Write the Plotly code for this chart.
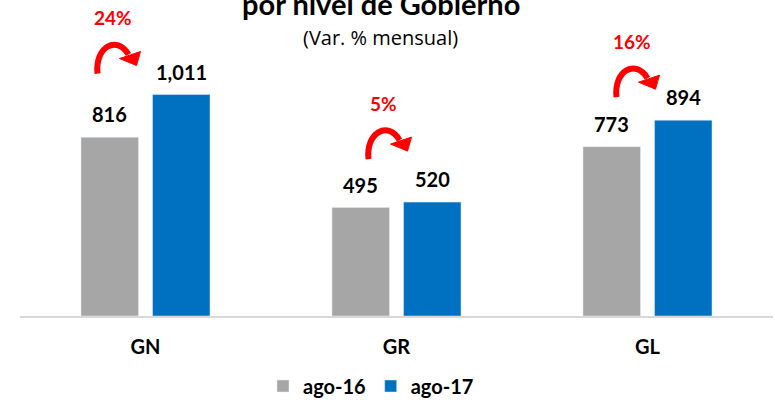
import plotly.graph_objects as go

# ---- data ----
categories = ["GN", "GR", "GL"]
ago16 = [816, 495, 773]
ago17 = [1011, 520, 894]
pct_change = ["24%", "5%", "16%"]
series_names = ["ago-16", "ago-17"]

# ---- style ----
GRAY = "#A6A6A6"
BLUE = "#0070C0"
RED = "#FF0000"
FONT = "Lato"
BAR_W = 0.229
OFF_16 = -0.257
OFF_17 = 0.028
# pixel placement of the % labels relative to (category, ago-17 top)
PCT_XSHIFT = [-33, -13, -16]
PCT_YSHIFT = [77, 99, 79]

xs = list(range(len(categories)))

fig = go.Figure()
fig.add_trace(go.Bar(x=xs, y=ago16, name=series_names[0], marker_color=GRAY,
                     width=BAR_W, offset=OFF_16, hoverinfo="y"))
fig.add_trace(go.Bar(x=xs, y=ago17, name=series_names[1], marker_color=BLUE,
                     width=BAR_W, offset=OFF_17, hoverinfo="y"))

annotations = []
shapes = []
for i in xs:
    for vals, off in ((ago16, OFF_16), (ago17, OFF_17)):
        annotations.append(dict(
            x=i + off + BAR_W / 2, y=vals[i], xref="x", yref="y",
            text=f"<b>{vals[i]:,}</b>", showarrow=False,
            yanchor="middle", yshift=23,
            font=dict(family=FONT, size=20, color="black")))
    xsft, ysft = PCT_XSHIFT[i], PCT_YSHIFT[i]
    annotations.append(dict(
        x=i, y=ago17[i], xref="x", yref="y",
        text=f"<b>{pct_change[i]}</b>", showarrow=False,
        xshift=xsft, yshift=ysft, yanchor="middle",
        font=dict(family=FONT, size=19, color=RED)))

    def P(dx, dy):
        return f"{xsft + dx},{ysft - dy}"

    body = f"M{P(-15,56)} C{P(-18,30)} {P(4,17)} {P(16,37)}"
    head = f"M{P(7,41)} L{P(28,34)} L{P(24,48)} Z"
    common = dict(type="path", xref="x", yref="y", xsizemode="pixel",
                  ysizemode="pixel", xanchor=i, yanchor=ago17[i], layer="above")
    shapes.append(dict(path=body, line=dict(color=RED, width=6), **common))
    shapes.append(dict(path=head, fillcolor=RED, line=dict(color=RED, width=1), **common))

# titles
annotations.append(dict(
    x=(381 - 20) / 753, y=1, xref="paper", yref="paper", showarrow=False,
    text="<b>por nivel de Gobierno</b>", yanchor="middle", yshift=7,
    font=dict(family=FONT, size=29, color="black")))
annotations.append(dict(
    x=(380 - 20) / 753, y=1, xref="paper", yref="paper", showarrow=False,
    text="(Var. % mensual)", yanchor="middle", yshift=-27,
    font=dict(family="Open Sans", size=20, color="black")))

fig.update_layout(
    width=775, height=400,
    margin=dict(l=20, r=2, t=10, b=84, autoexpand=False),
    paper_bgcolor="white", plot_bgcolor="white",
    barmode="overlay",
    showlegend=True,
    legend=dict(orientation="h", x=(371 - 20) / 753, xanchor="center",
                y=-70 / 306, yanchor="middle",
                font=dict(family=FONT, size=20, color="black", weight="bold"),
                itemwidth=30, traceorder="normal"),
    annotations=annotations,
    shapes=shapes,
    xaxis=dict(range=[-0.5, 2.5], tickvals=xs, ticktext=[f"<b>{c}</b>" for c in categories],
               showgrid=False, zeroline=False, showline=True, linecolor="#D9D9D9",
               linewidth=2, ticks="", ticklabelstandoff=12,
               tickfont=dict(family=FONT, size=20, color="black")),
    yaxis=dict(range=[0, 1397], visible=False, showgrid=False, zeroline=False),
)

fig.write_html("out.html", config={"displayModeBar": False},
               post_script="document.body.style.margin='0';document.body.style.overflow='hidden';")
